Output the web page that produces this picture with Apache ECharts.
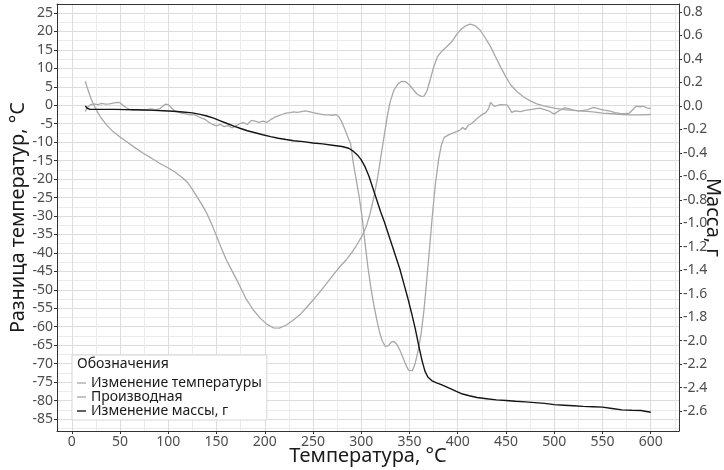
<!DOCTYPE html>
<html>
<head>
<meta charset="utf-8">
<script src="https://cdn.jsdelivr.net/npm/echarts@6/dist/echarts.min.js"></script>
<style>html,body{margin:0;padding:0;background:#fff}#c{width:724px;height:470px}</style>
</head>
<body>
<div id="c"></div>
<script>
// ---- data ----
const xTicks = [0,50,100,150,200,250,300,350,400,450,500,550,600];
const leftTicks = [-85,-80,-75,-70,-65,-60,-55,-50,-45,-40,-35,-30,-25,-20,-15,-10,-5,0,5,10,15,20,25];
const rightTicks = [-2.6,-2.4,-2.2,-2.0,-1.8,-1.6,-1.4,-1.2,-1.0,-0.8,-0.6,-0.4,-0.2,0.0,0.2,0.4,0.6,0.8];

const seriesNames = ['Изменение температуры','Производная','Изменение массы, г'];

// Изменение температуры (°C)
const tempT = [14,16,19,22,26,30,36,43,50,57,65,74,83,91,100,108,115,120,125,130,135,140,145,150,155,160,166,171,176,181,188,195,202,209,215,222,229,237,244,251,258,265,272,279,285,290,295,300,305,309,313,317,320,323,327,330,334,338,342,346,350,354,358,362,365,368,371,375,379,384,389,394,399,403,408,413,418,423,428,434,439,444,449,455,461,468,475,482,490,500,510,520,530,540,550,560,570,580,590,600];
const tempV = [6.5,4.8,2.5,0.5,-1.5,-3.3,-5.3,-7.2,-8.6,-9.9,-11.4,-13.0,-14.4,-15.7,-17.0,-18.3,-19.7,-20.9,-22.8,-24.9,-27.0,-29.3,-32.2,-35.4,-38.7,-41.8,-44.8,-47.3,-50.0,-52.6,-55.4,-57.6,-59.3,-60.3,-60.4,-59.6,-58.3,-56.6,-54.6,-52.5,-50.3,-48.0,-45.6,-43.4,-41.7,-40.0,-38.0,-35.8,-33.0,-29.5,-25.0,-19.5,-14.5,-9.5,-3.0,1.0,4.2,5.8,6.5,6.4,5.5,4.2,3.0,2.4,2.5,3.8,6.5,10.3,13.2,14.8,16.0,17.3,19.2,20.5,21.5,22.0,21.6,20.4,18.5,15.9,13.2,10.6,8.1,5.5,3.8,2.3,1.2,0.4,-0.2,-0.8,-1.2,-1.4,-1.6,-1.8,-2.1,-2.3,-2.5,-2.6,-2.6,-2.5];

// Производная
const derivT = [14,16,19,23,27,31,35,39,43,47,50,53,56,60,64,68,72,77,82,87,91,94,97,100,103,106,110,114,118,122,126,130,134,138,142,146,150,154,158,162,166,170,174,178,182,186,190,194,198,202,206,210,214,218,222,226,230,234,238,242,246,250,254,258,262,266,270,274,277,280,283,286,289,292,295,298,301,304,307,310,313,316,319,322,325,328,331,334,337,340,343,346,349,351,353,356,359,362,365,368,371,374,377,380,383,386,390,394,398,402,405,408,411,414,417,420,423,426,429,432,434,436,438,441,444,448,451,453,456,460,465,470,475,480,485,490,495,500,503,507,511,515,520,525,530,535,540,544,548,553,558,563,568,573,578,582,585,589,592,596,600];
const derivV = [-1.7,-0.6,0.1,0.4,0.2,0.5,0.3,0.4,0.6,0.8,0.7,0.0,-0.6,-1.1,-1.3,-1.1,-1.3,-1.2,-1.0,-1.2,-1.0,-0.3,0.3,0.2,-0.6,-1.4,-1.8,-2.1,-2.3,-2.6,-2.5,-2.9,-3.4,-3.8,-4.6,-5.2,-5.6,-5.2,-5.8,-5.5,-6.1,-5.6,-5.0,-4.7,-5.2,-4.1,-4.3,-4.6,-4.3,-4.6,-3.9,-3.3,-2.9,-2.5,-2.1,-2.0,-1.8,-1.9,-1.7,-1.5,-1.7,-2.0,-2.2,-2.4,-2.6,-2.6,-2.7,-2.5,-3.2,-4.6,-6.5,-8.5,-10.5,-16.0,-20.5,-25.0,-30.5,-37.5,-44.0,-49.5,-54.0,-58.0,-61.5,-64.0,-65.3,-65.2,-64.2,-64.0,-64.8,-66.3,-68.2,-70.2,-71.8,-72.3,-71.9,-69.8,-66.4,-62.0,-55.5,-47.0,-38.0,-29.0,-21.0,-15.0,-10.8,-8.7,-8.1,-7.6,-7.2,-6.8,-6.0,-6.6,-5.4,-5.0,-4.3,-3.6,-3.0,-2.4,-2.0,-0.9,0.8,1.2,-0.3,-0.1,0.2,0.1,0.1,-0.6,-1.9,-1.5,-1.7,-1.4,-1.2,-1.0,-0.8,-1.2,-1.6,-2.4,-1.8,-1.2,-0.7,-0.9,-1.3,-1.5,-1.4,-1.2,-0.6,-0.8,-1.1,-1.4,-1.6,-2.0,-2.2,-2.3,-2.1,-1.0,-0.2,-0.4,-0.2,-0.7,-0.9];

// Изменение массы, г
const massT = [14,16,19,25,35,45,55,65,75,85,95,105,115,125,133,140,147,154,161,168,175,182,190,198,206,214,222,230,240,250,260,270,280,287,292,296,300,304,308,312,316,320,324,328,332,336,340,344,348,352,356,360,363,366,369,373,378,383,390,398,405,412,420,430,440,450,460,470,480,490,500,510,520,530,540,550,560,570,580,590,600];
const massV = [0.0,-0.02,-0.03,-0.03,-0.03,-0.03,-0.032,-0.033,-0.035,-0.038,-0.041,-0.046,-0.052,-0.06,-0.072,-0.086,-0.105,-0.127,-0.15,-0.172,-0.193,-0.212,-0.229,-0.246,-0.262,-0.276,-0.287,-0.297,-0.305,-0.316,-0.324,-0.335,-0.346,-0.361,-0.388,-0.418,-0.46,-0.52,-0.6,-0.7,-0.8,-0.9,-0.99,-1.09,-1.19,-1.29,-1.39,-1.51,-1.63,-1.76,-1.9,-2.06,-2.17,-2.26,-2.31,-2.34,-2.36,-2.375,-2.40,-2.43,-2.455,-2.47,-2.485,-2.495,-2.505,-2.51,-2.517,-2.522,-2.528,-2.535,-2.545,-2.55,-2.555,-2.56,-2.563,-2.567,-2.578,-2.59,-2.593,-2.595,-2.61];

// ---- chart ----
const zip = (a, b) => a.map((v, i) => [v, b[i]]);
const FONT = 'Noto Sans';
const gridMajor = '#dcdcdc';
const gridMinor = '#ebebeb';
const frame = '#333333';
const labelStyle = { color: '#4d4d4d', fontSize: 14, fontFamily: FONT };
const nameStyle = { fontSize: 20, color: '#1a1a1a', fontFamily: FONT };
const keyIcon = 'path://M0,0 L10,0 L10,1.5 L0,1.5 Z';

const chart = echarts.init(document.getElementById('c'), null, { renderer: 'canvas' });
chart.setOption({
  animation: false,
  backgroundColor: '#ffffff',
  title: {
    text: 'Обозначения', left: 77, top: 357, padding: 0,
    textStyle: { fontSize: 14, fontWeight: 'normal', color: '#1a1a1a', fontFamily: FONT }
  },
  legend: {
    data: seriesNames.map(n => ({ name: n, icon: keyIcon })),
    orient: 'vertical', left: 72, top: 355,
    itemWidth: 9, itemHeight: 14, itemGap: 0, symbolKeepAspect: true,
    padding: [21, 5, 2, 5],
    backgroundColor: '#ffffff', borderColor: '#d6d6d6', borderWidth: 1,
    textStyle: { fontSize: 14, color: '#1a1a1a', fontFamily: FONT }
  },
  grid: { left: 57, right: 45, top: 4, bottom: 39, show: false, containLabel: false, outerBoundsMode: 'none' },
  xAxis: [{
    type: 'value', min: -15.3, max: 629.3, splitNumber: 13,
    name: 'Температура, °C', nameLocation: 'middle', nameGap: 15, nameMoveOverlap: false,
    nameTextStyle: Object.assign({ verticalAlign: 'top' }, nameStyle),
    axisLine: { show: true, onZero: false, lineStyle: { color: frame, width: 1 } },
    axisTick: { show: true, length: 3, lineStyle: { color: frame }, customValues: xTicks },
    axisLabel: Object.assign({ margin: 4, customValues: xTicks }, labelStyle),
    splitLine: { show: true, lineStyle: { color: gridMajor, width: 1, type: 'solid' } },
    minorTick: { show: false, splitNumber: 2 },
    minorSplitLine: { show: true, lineStyle: { color: gridMinor, width: 1, type: 'solid' } }
  }, {
    type: 'value', position: 'top', min: -15.3, max: 629.3,
    axisLine: { show: true, onZero: false, lineStyle: { color: frame, width: 1 } },
    axisTick: { show: false }, axisLabel: { show: false }, splitLine: { show: false }
  }],
  yAxis: [
    {
      type: 'value', position: 'left', min: -88.25, max: 27.44, splitNumber: 23,
      name: 'Разница температур, °C', nameLocation: 'middle', nameGap: 29, nameMoveOverlap: false,
      nameTextStyle: nameStyle,
      axisLine: { show: true, onZero: false, lineStyle: { color: frame, width: 1 } },
      axisTick: { show: true, length: 3, lineStyle: { color: frame }, customValues: leftTicks },
      axisLabel: Object.assign({ margin: 4, customValues: leftTicks }, labelStyle),
      splitLine: { show: true, lineStyle: { color: gridMajor, width: 1, type: 'solid' } },
      minorTick: { show: false, splitNumber: 2 },
      minorSplitLine: { show: true, lineStyle: { color: gridMinor, width: 1, type: 'solid' } }
    },
    {
      type: 'value', position: 'right', min: -2.77, max: 0.868, splitNumber: 18,
      name: 'Масса, г', nameLocation: 'middle', nameGap: 24, nameRotate: -90, nameMoveOverlap: false,
      nameTextStyle: nameStyle,
      axisLine: { show: true, onZero: false, lineStyle: { color: frame, width: 1 } },
      axisTick: { show: true, length: 3, lineStyle: { color: frame }, customValues: rightTicks },
      axisLabel: Object.assign({ margin: 4, customValues: rightTicks, formatter: v => Number(v).toFixed(1) }, labelStyle),
      splitLine: { show: false }
    }
  ],
  series: [
    { name: seriesNames[0], type: 'line', yAxisIndex: 0, data: zip(tempT, tempV), symbol: 'none',
      color: '#a8a8a8', lineStyle: { color: '#a8a8a8', width: 1.3 } },
    { name: seriesNames[1], type: 'line', yAxisIndex: 0, data: zip(derivT, derivV), symbol: 'none',
      color: '#a8a8a8', lineStyle: { color: '#a8a8a8', width: 1.3 } },
    { name: seriesNames[2], type: 'line', yAxisIndex: 1, data: zip(massT, massV), symbol: 'none',
      color: '#151515', lineStyle: { color: '#151515', width: 1.4 } }
  ]
});
</script>
</body>
</html>
